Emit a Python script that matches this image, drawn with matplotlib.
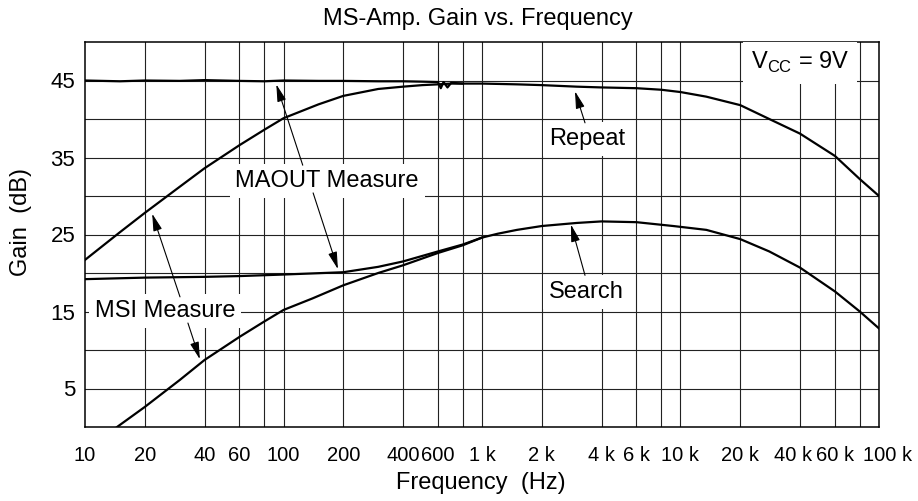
import numpy as np
from matplotlib import pyplot as plt
import matplotlib.transforms as mtransforms

plt.rcParams['font.family'] = ['Liberation Sans', 'DejaVu Sans']
plt.rcParams['mathtext.fontset'] = 'custom'
plt.rcParams['mathtext.rm'] = 'Liberation Sans'

# Repeat mode, MAOUT measure (flat, then roll-off)
f_rep = [10, 15, 20, 30, 40, 60, 80, 100, 150, 200, 300, 400, 500, 600, 620, 640, 670, 700,
         800, 1000, 1500, 2000, 3000, 4000, 6000, 8000, 10000, 13500, 20000, 28000, 40000,
         60000, 80000, 100000]
g_rep = [45.0, 44.9, 45.0, 44.95, 45.05, 44.95, 44.9, 45.0, 44.95, 44.95, 44.9, 44.9, 44.85,
         44.8, 44.0, 44.8, 44.1, 44.7, 44.6, 44.6, 44.5, 44.4, 44.2, 44.1, 44.0, 43.8, 43.5,
         42.9, 41.8, 40.0, 38.1, 35.2, 32.2, 30.0]

# Repeat mode, MSI measure (rising until it meets the MAOUT curve)
f_rep_msi = [10, 15, 20, 30, 40, 60, 80, 100, 150, 200, 300, 400, 500, 600, 700, 800]
g_rep_msi = [21.7, 25.3, 27.8, 31.2, 33.6, 36.6, 38.6, 40.1, 41.9, 43.0, 43.9, 44.2, 44.4,
             44.5, 44.6, 44.6]

# Search mode, MAOUT measure
f_srch = [10, 20, 40, 60, 100, 200, 300, 400, 600, 800, 1000]
g_srch = [19.2, 19.4, 19.5, 19.6, 19.8, 20.1, 20.8, 21.5, 22.8, 23.7, 24.6]

# Search mode, MSI measure (whole band)
f_srch_msi = [14.5, 20, 30, 40, 60, 80, 100, 140, 200, 300, 400, 600, 800, 1000, 1200, 1500,
              2000, 3000, 4000, 6000, 9200, 13500, 20000, 28000, 40000, 60000, 80000, 100000]
g_srch_msi = [0.0, 2.6, 6.1, 8.7, 11.7, 13.7, 15.2, 16.7, 18.4, 20.0, 21.0, 22.6, 23.6, 24.6,
              25.1, 25.6, 26.1, 26.5, 26.7, 26.6, 26.1, 25.6, 24.4, 22.8, 20.7, 17.6, 15.0, 12.8]

x_ticks = [10, 20, 40, 60, 100, 200, 400, 600, 1e3, 2e3, 4e3, 6e3, 1e4, 2e4, 4e4, 6e4, 1e5]
x_labels = ['10', '20', '40', '60', '100', '200', '400', '600', '1 k', '2 k', '4 k', '6 k',
            '10 k', '20 k', '40 k', '60 k', '100 k']
y_ticks = [5, 15, 25, 35, 45]

fig = plt.figure(figsize=(9.18, 5.01), dpi=100)
ax = fig.add_axes([85/918, 1-427/501, 794/918, 385/501])

ax.set_xscale('log')
ax.set_xlim(10, 1e5)
ax.set_ylim(0, 50)

# grid: 1,2,4,6,8 per decade and every 5 dB
vgrid = [m*10**d for d in range(1, 5) for m in (1, 2, 4, 6, 8)]
for v in vgrid[1:]:
    ax.axvline(v, color='#222222', lw=0.8, zorder=1)
for h in np.arange(5, 50, 5):
    ax.axhline(h, color='#222222', lw=0.8, zorder=1)

for f, g in [(f_rep, g_rep), (f_rep_msi, g_rep_msi), (f_srch, g_srch), (f_srch_msi, g_srch_msi)]:
    ax.plot(f, g, color='black', lw=1.6, zorder=3)

ax.set_xticks(x_ticks)
ax.set_xticklabels(x_labels)
ax.xaxis.set_minor_locator(plt.NullLocator())
ax.set_yticks(y_ticks)
ax.tick_params(axis='x', length=0, labelsize=14.5, pad=14)
ax.tick_params(axis='y', length=0, labelsize=16, pad=7)
for s in ax.spines.values():
    s.set_linewidth(1.1)

# crowded labels at the top end get nudged apart
nudge = {'40 k': -5, '100 k': 6}
for lbl in ax.get_xticklabels():
    dx = nudge.get(lbl.get_text(), 0)
    if dx:
        lbl.set_transform(lbl.get_transform() + mtransforms.ScaledTranslation(dx/72, 0, fig.dpi_scale_trans))

fig.text(478/918, 1-19/501, 'MS-Amp. Gain vs. Frequency', ha='center', va='center', fontsize=17)
fig.text(481/918, 1-483/501, 'Frequency  (Hz)', ha='center', va='center', fontsize=17)
fig.text(21/918, 1-222/501, 'Gain  (dB)', ha='center', va='center', rotation=90, fontsize=17)

box = dict(boxstyle='square,pad=0.25', fc='white', ec='none')
arrow = dict(arrowstyle='-|>,head_length=0.7,head_width=0.18', color='black', lw=0.8,
             mutation_scale=15, shrinkA=0, shrinkB=0)

def label(text, x, y):
    ax.text(x, y, text, ha='center', va='center', fontsize=17, bbox=box, zorder=5)

def pointer(x0, y0, x1, y1):
    ax.annotate('', xy=(x1, y1), xytext=(x0, y0), arrowprops=arrow, zorder=6)

label('MAOUT Measure', 166, 31.9)
pointer(125, 34.0, 92, 44.5)
pointer(141, 30.4, 188, 20.5)

label('MSI Measure', 25.3, 15.1)
pointer(30.1, 16.9, 21.8, 27.7)
pointer(33.0, 13.5, 37.9, 8.8)

label('Repeat', 3380, 37.4)
pointer(3303, 39.5, 2941, 43.6)

label('Search', 3343, 17.5)
pointer(3303, 19.7, 2805, 26.3)

ax.text(40000, 47.3, r'V$_{\mathrm{CC}}$ = 9V', ha='center', va='center', fontsize=17,
        bbox=dict(boxstyle='square,pad=0.35', fc='white', ec='none'), zorder=5)

fig.savefig('out.png', dpi=100)
